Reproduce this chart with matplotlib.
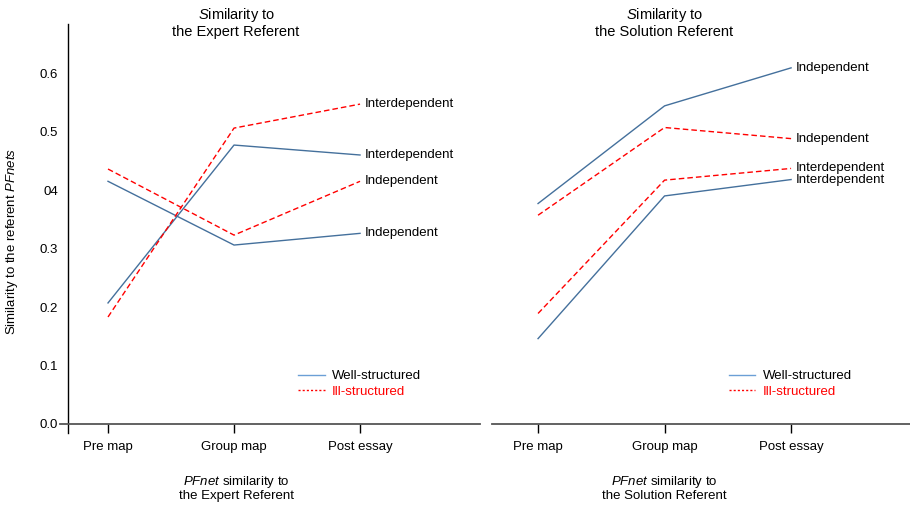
import numpy as np
import matplotlib.pyplot as plt
from matplotlib.lines import Line2D

plt.rcParams['font.family'] = ['Liberation Sans', 'DejaVu Sans']
plt.rcParams['mathtext.fontset'] = 'custom'
plt.rcParams['mathtext.rm'] = 'Liberation Sans'
plt.rcParams['mathtext.it'] = 'Liberation Sans:italic'

# data
stages = ['Pre map', 'Group map', 'Post essay']
y_ticks = [0.0, 0.1, 0.2, 0.3, 0.4, 0.5, 0.6]
y_tick_labels = ['0.0', '0.1', '0.2', '0.3', '04', '0.5', '0.6']

expert_well_indep = [0.415, 0.306, 0.326]
expert_well_inter = [0.207, 0.477, 0.460]
expert_ill_indep = [0.436, 0.323, 0.415]
expert_ill_inter = [0.183, 0.506, 0.547]

solution_well_indep = [0.377, 0.544, 0.609]
solution_well_inter = [0.146, 0.390, 0.418]
solution_ill_indep = [0.357, 0.507, 0.488]
solution_ill_inter = [0.189, 0.417, 0.437]

BLUE = '#44709c'
LEGEND_BLUE = '#6b9fd6'
RED = '#ff0000'
FS = 9.5

W, H = 910, 505


def px_axes(fig, left, right, top, bottom):
  return fig.add_axes([left / W, (H - bottom) / H, (right - left) / W, (bottom - top) / H])


def draw_panel(fig, ax, series, title, xlabel, x0, xlims, show_y, cx):
  x = np.arange(len(stages))
  ax.set_xlim(*xlims)
  ax.set_ylim(-0.0154, 0.684)
  for vals, kind, label in series:
    if kind == 'well':
      ax.plot(x, vals, color=BLUE, lw=1.0)
    else:
      ax.plot(x, vals, color=RED, lw=1.0, dashes=(4, 2.2))
    ax.text(2.04, vals[-1], label, va='center', ha='left', fontsize=FS)

  for s in ['top', 'right']:
    ax.spines[s].set_visible(False)
  ax.spines['bottom'].set_position(('data', 0))
  ax.spines['bottom'].set_color('#555555')
  ax.spines['bottom'].set_linewidth(1.3)
  ax.set_xticks(x)
  ax.set_xticklabels(stages, fontsize=FS)
  ax.tick_params(axis='x', direction='out', length=6.5, width=1.0, pad=6)
  if show_y:
    ax.spines['left'].set_position(('data', x0))
    ax.spines['left'].set_linewidth(1.0)
    ax.set_yticks(y_ticks)
    ax.set_yticklabels(y_tick_labels, fontsize=FS)
    ax.tick_params(axis='y', length=0, pad=7)
    fig.text(12 / W, 1 - 241 / H, r'Similarity to the referent $\it{PFnets}$',
             rotation=90, ha='center', va='center', fontsize=FS)
  else:
    ax.spines['left'].set_visible(False)
    ax.set_yticks([])

  fig.text(cx / W, 1 - 6 / H, title, ha='center', va='top', fontsize=10.5,
           linespacing=1.1)
  fig.text(cx / W, 1 - 474 / H, xlabel, ha='center', va='top', fontsize=FS,
           linespacing=1.05)

  handles = [Line2D([], [], color=LEGEND_BLUE, lw=1.0),
             Line2D([], [], color=RED, lw=1.0, ls=(0, (1.5, 1.5)))]
  leg = ax.legend(handles, ['Well-structured', 'Ill-structured'], loc='center left',
                  bbox_to_anchor=(0.567, 0.12), frameon=False, fontsize=FS,
                  handlelength=2.0, handletextpad=0.55, labelspacing=0.25,
                  borderpad=0, borderaxespad=0)
  leg.get_texts()[1].set_color(RED)


def main():
  fig = plt.figure(figsize=(W / 100, H / 100), dpi=100)

  ax1 = px_axes(fig, 60, 480, 24, 433)
  draw_panel(fig, ax1,
             [(expert_well_indep, 'well', 'Independent'),
              (expert_well_inter, 'well', 'Interdependent'),
              (expert_ill_indep, 'ill', 'Independent'),
              (expert_ill_inter, 'ill', 'Interdependent')],
             '$\\it{S}$imilarity to\nthe Expert Referent',
             '$\\it{PFnet}$ similarity to\nthe Expert Referent',
             -0.317, (-0.381, 2.952), True, 236)

  ax2 = px_axes(fig, 492, 910, 24, 433)
  draw_panel(fig, ax2,
             [(solution_well_indep, 'well', 'Independent'),
              (solution_well_inter, 'well', 'Interdependent'),
              (solution_ill_indep, 'ill', 'Independent'),
              (solution_ill_inter, 'ill', 'Interdependent')],
             '$\\it{S}$imilarity to\nthe Solution Referent',
             '$\\it{PFnet}$ similarity to\nthe Solution Referent',
             0, (-0.364, 2.94), False, 664)

  fig.savefig('out.png', dpi=100)


if __name__ == "__main__":
  main()
